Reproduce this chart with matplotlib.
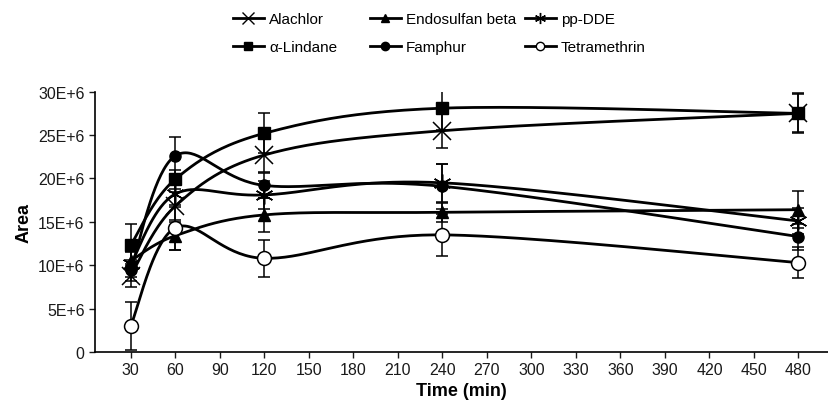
import numpy as np
import matplotlib
matplotlib.use("Agg")
import matplotlib.pyplot as plt
from matplotlib.lines import Line2D

plt.rcParams['font.family'] = ['Liberation Sans', 'DejaVu Sans']

# data, areas in millions
time_min = [30, 60, 120, 240, 480]
x_ticks = list(range(30, 481, 30))
y_ticks = [0, 5, 10, 15, 20, 25, 30]
y_tick_labels = ["0", "5E+6", "10E+6", "15E+6", "20E+6", "25E+6", "30E+6"]

alachlor = [8.8, 16.8, 22.7, 25.5, 27.5]
lindane = [12.3, 19.9, 25.2, 28.1, 27.5]
endosulfan = [10.5, 13.4, 15.8, 16.1, 16.4]
famphur = [9.4, 22.6, 19.2, 19.1, 13.3]
ppdde = [10.1, 18.2, 18.1, 19.5, 15.1]
tetramethrin = [3.0, 14.3, 10.8, 13.5, 10.3]

alachlor_err = [1.3, 1.6, 2.0, 2.0, 2.2]
lindane_err = [2.4, 1.1, 2.3, 2.5, 2.3]
endosulfan_err = [1.0, 1.6, 2.0, 1.1, 2.1]
famphur_err = [1.2, 2.2, 1.4, 2.6, 1.5]
ppdde_err = [1.5, 1.5, 1.6, 2.2, 1.5]
tetramethrin_err = [2.8, 2.6, 2.1, 2.4, 1.8]

XMIN, XMAX = 6, 500
YMAX = 30


def smooth(xs, ys, W=733.0, H=260.0, n=40):
    # excel-like bezier smoothing, done in screen-ish units
    p = np.column_stack([(np.asarray(xs, float) - XMIN) / (XMAX - XMIN) * W,
                         np.asarray(ys, float) / YMAX * H])
    out = []
    for i in range(len(p) - 1):
        p0 = p[i - 1] if i > 0 else p[i]
        p1, p2 = p[i], p[i + 1]
        p3 = p[i + 2] if i + 2 < len(p) else p[i + 1]
        c1 = p1 + (p2 - p0) / 6
        c2 = p2 - (p3 - p1) / 6
        t = np.linspace(0, 1, n)[:, None]
        seg = ((1 - t) ** 3) * p1 + 3 * ((1 - t) ** 2) * t * c1 + 3 * (1 - t) * t ** 2 * c2 + t ** 3 * p2
        out.append(seg)
    out = np.vstack(out)
    return out[:, 0] / W * (XMAX - XMIN) + XMIN, out[:, 1] / H * YMAX


series = [
    ("Alachlor", alachlor, alachlor_err, dict(marker='x', ms=13, mew=1.1, mfc='k')),
    ("\u03b1-Lindane", lindane, lindane_err, dict(marker='s', ms=8, mfc='k')),
    ("Endosulfan beta", endosulfan, endosulfan_err, dict(marker='^', ms=8, mfc='k')),
    ("Famphur", famphur, famphur_err, dict(marker='o', ms=8, mfc='k')),
    ("pp-DDE", ppdde, ppdde_err, dict(marker=(6, 2, 0), ms=13, mew=1.1, mfc='k')),
    ("Tetramethrin", tetramethrin, tetramethrin_err, dict(marker='o', ms=10, mfc='white', mew=1.1)),
]

fig = plt.figure(figsize=(8.29, 4.06), dpi=100)
ax = fig.add_axes([0.1146, 0.1305, 0.8844, 0.6412])

for name, vals, err, mk in series:
    sx, sy = smooth(time_min, vals)
    ax.plot(sx, sy, color='k', lw=2.0, zorder=2)
    ax.errorbar(time_min, vals, yerr=err, fmt='none', ecolor='k', elinewidth=1.1,
                capsize=4, capthick=1.1, zorder=3)
    ax.plot(time_min, vals, linestyle='none', color='k', mec='k', zorder=4, **mk)

ax.set_xlim(XMIN, XMAX)
ax.set_ylim(0, YMAX)
ax.set_xticks(x_ticks)
ax.set_yticks(y_ticks)
ax.set_yticklabels(y_tick_labels)
ax.tick_params(labelsize=11.5, length=4, width=1, direction='out', colors='#1a1a1a')
for side in ['top', 'right']:
    ax.spines[side].set_visible(False)
for side in ['left', 'bottom']:
    ax.spines[side].set_linewidth(1.2)
ax.set_xlabel("Time (min)", fontsize=13, fontweight='bold', labelpad=3)
ax.set_ylabel("Area", fontsize=13, fontweight='bold', labelpad=4)

# legend, three columns placed by hand
leg_ms = {'x': 8, 's': 6, '^': 6, 'o': 6}
handles = []
for name, vals, err, mk in series:
    m = mk['marker']
    ms = leg_ms.get(m, 8) if not isinstance(m, tuple) else 8
    handles.append(Line2D([], [], color='k', lw=2.0, marker=m, ms=ms,
                          mfc=mk.get('mfc', 'k'), mec='k', mew=1.0))

col_x = [0.270, 0.4355, 0.6224]
order = [[0, 1], [2, 3], [4, 5]]
for cx, idx in zip(col_x, order):
    fig.legend([handles[i] for i in idx], [series[i][0] for i in idx],
               loc='upper left', bbox_to_anchor=(cx, 0.99), frameon=False,
               fontsize=11, handlelength=2.0, handletextpad=0.35,
               labelspacing=0.9, borderaxespad=0.2)

fig.savefig("out.png", dpi=100)
